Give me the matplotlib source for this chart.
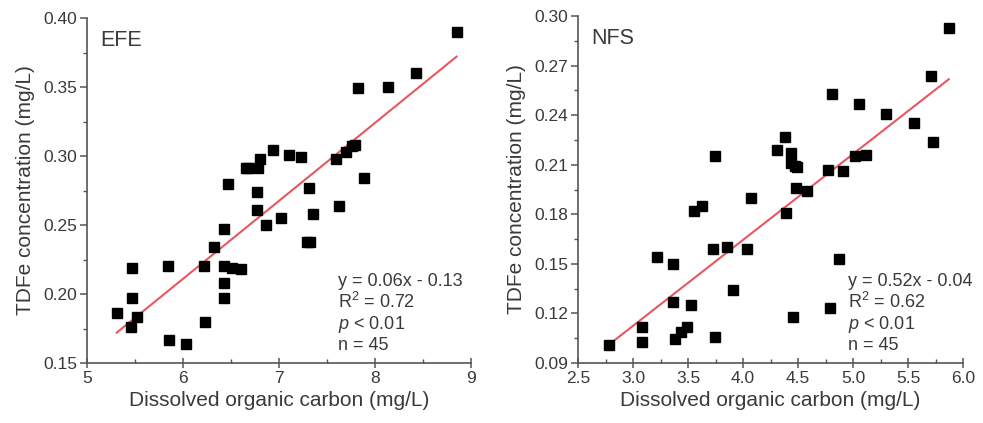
import numpy as np
import matplotlib
matplotlib.use("Agg")
import matplotlib.pyplot as plt
from matplotlib.ticker import MultipleLocator, FormatStrFormatter

plt.rcParams['font.family'] = ['Liberation Sans', 'DejaVu Sans']
plt.rcParams['mathtext.fontset'] = 'custom'
plt.rcParams['mathtext.rm'] = 'Liberation Sans'
plt.rcParams['mathtext.it'] = 'Liberation Sans:italic'

# EFE data
efe_doc = [5.31, 5.46, 5.47, 5.47, 5.52, 5.84, 5.85, 6.03, 6.22, 6.23,
           6.32, 6.43, 6.43, 6.43, 6.43, 6.47, 6.51, 6.60, 6.66, 6.68,
           6.78, 6.77, 6.77, 6.80, 6.86, 6.94, 7.02, 7.10, 7.23, 7.29,
           7.32, 7.31, 7.35, 7.59, 7.63, 7.70, 7.76, 7.79, 7.82, 7.89,
           8.14, 8.43, 8.85]
efe_fe = [0.186, 0.176, 0.197, 0.219, 0.183, 0.220, 0.167, 0.164, 0.220, 0.180,
          0.234, 0.247, 0.220, 0.208, 0.197, 0.280, 0.219, 0.218, 0.291, 0.291,
          0.291, 0.274, 0.261, 0.298, 0.250, 0.304, 0.255, 0.301, 0.299, 0.238,
          0.238, 0.277, 0.258, 0.298, 0.264, 0.303, 0.307, 0.308, 0.349, 0.284,
          0.350, 0.360, 0.390]
efe_fit = (0.0565, -0.128)
efe_text = "y = 0.06x - 0.13\nR$^2$ = 0.72\n$p$ < 0.01\nn = 45"

# NFS data
nfs_doc = [2.78, 3.08, 3.08, 3.22, 3.36, 3.36, 3.38, 3.44, 3.49, 3.53,
           3.55, 3.63, 3.73, 3.745, 3.745, 3.85, 3.91, 4.04, 4.07, 4.31,
           4.38, 4.39, 4.44, 4.44, 4.47, 4.49, 4.45, 4.48, 4.58, 4.77,
           4.79, 4.81, 4.87, 4.91, 5.02, 5.05, 5.12, 5.30, 5.55, 5.71,
           5.73, 5.87]
nfs_fe = [0.101, 0.103, 0.112, 0.154, 0.150, 0.127, 0.1045, 0.109, 0.112, 0.125,
          0.182, 0.185, 0.159, 0.215, 0.106, 0.160, 0.134, 0.159, 0.190, 0.219,
          0.227, 0.181, 0.217, 0.211, 0.209, 0.2086, 0.118, 0.196, 0.194, 0.207,
          0.123, 0.253, 0.153, 0.206, 0.215, 0.247, 0.216, 0.241, 0.235, 0.264,
          0.224, 0.293]
nfs_fit = (0.052, -0.0435)
nfs_text = "y = 0.52x - 0.04\nR$^2$ = 0.62\n$p$ < 0.01\nn = 45"

fig = plt.figure(figsize=(9.83, 4.23), dpi=100)
ax1 = fig.add_axes([0.0885, 0.1418, 0.3906, 0.8156])
ax2 = fig.add_axes([0.588, 0.1418, 0.3917, 0.8203])

panels = [
    (ax1, efe_doc, efe_fe, efe_fit, efe_text, "EFE", (5, 9), (0.15, 0.40),
     1, 0.05, "%d", "%.2f", 0.655),
    (ax2, nfs_doc, nfs_fe, nfs_fit, nfs_text, "NFS", (2.5, 6.0), (0.09, 0.30),
     0.5, 0.03, "%.1f", "%.2f", 0.70),
]

grey = '#3a3a3a'
for ax, xd, yd, fit, txt, name, xl, yl, xmaj, ymaj, xfmt, yfmt, tx in panels:
    xd = np.array(xd)
    ax.plot(xd, yd, 's', color='black', ms=6.5, zorder=3)
    xs = np.array([xd.min(), xd.max()])
    ax.plot(xs, fit[0] * xs + fit[1], color='#e8575f', lw=1.5, zorder=2)

    ax.set_xlim(*xl)
    ax.set_ylim(*yl)
    ax.xaxis.set_major_locator(MultipleLocator(xmaj))
    ax.xaxis.set_minor_locator(MultipleLocator(xmaj / 2))
    ax.yaxis.set_major_locator(MultipleLocator(ymaj))
    ax.yaxis.set_minor_locator(MultipleLocator(ymaj / 2))
    ax.xaxis.set_major_formatter(FormatStrFormatter(xfmt))
    ax.yaxis.set_major_formatter(FormatStrFormatter(yfmt))

    for s in ['top', 'right']:
        ax.spines[s].set_visible(False)
    for s in ['left', 'bottom']:
        ax.spines[s].set_color('#555555')
        ax.spines[s].set_linewidth(1.2)
    ax.tick_params(axis='both', which='major', length=5, width=1.1,
                   color='#555555', labelsize=12.5, labelcolor=grey, pad=2)
    ax.tick_params(axis='both', which='minor', length=3, width=1,
                   color='#555555')
    ax.tick_params(axis='y', which='both', direction='out')
    ax.tick_params(axis='x', which='major', direction='inout', length=7)
    ax.tick_params(axis='x', which='minor', direction='in')

    ax.set_xlabel("Dissolved organic carbon (mg/L)", fontsize=15, color=grey,
                  labelpad=4)
    ax.set_ylabel("TDFe concentration (mg/L)", fontsize=15, color=grey,
                  labelpad=6)
    ax.text(0.035, 0.935, name, transform=ax.transAxes, fontsize=15.5,
            color=grey, va='center', ha='left')
    ax.text(tx, 0.025, txt, transform=ax.transAxes, fontsize=13,
            color=grey, va='bottom', ha='left', linespacing=1.15)

fig.savefig("out.png", dpi=100)
